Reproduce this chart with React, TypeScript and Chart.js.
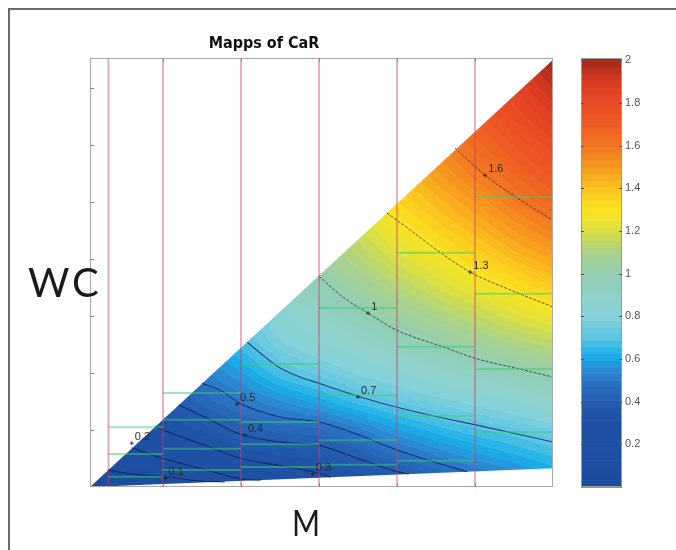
import React, { useEffect, useRef } from "react";
import { Chart, registerables } from "chart.js";
Chart.register(...registerables);

// ---- value grid of CaR (rows: WC levels, cols: M levels)
const mLevels = [0, 0.5, 1, 1.5, 2, 2.5, 3, 3.5, 4, 4.5, 5, 5.5, 6];
const wcLevels = [0, 0.5, 1, 1.5, 2, 2.5, 3, 3.5, 4, 4.5, 5, 5.5, 6, 6.5, 7, 7.5];
const carValues = [
  [0.0, 0.03, 0.06, 0.11, 0.16, 0.21, 0.255, 0.29, 0.33, 0.38, 0.44, 0.5, 0.56],
  [0.08, 0.15, 0.2, 0.25, 0.3, 0.33, 0.35, 0.4, 0.46, 0.52, 0.57, 0.61, 0.65],
  [0.14, 0.23, 0.3, 0.35, 0.42, 0.45, 0.46, 0.52, 0.59, 0.64, 0.68, 0.71, 0.75],
  [0.19, 0.29, 0.37, 0.45, 0.51, 0.56, 0.61, 0.67, 0.72, 0.76, 0.8, 0.84, 0.89],
  [0.23, 0.34, 0.42, 0.52, 0.59, 0.68, 0.73, 0.79, 0.83, 0.89, 0.93, 0.98, 1.02],
  [0.27, 0.38, 0.47, 0.58, 0.67, 0.77, 0.83, 0.89, 0.95, 1.0, 1.05, 1.1, 1.14],
  [0.3, 0.42, 0.51, 0.63, 0.73, 0.83, 0.91, 0.97, 1.04, 1.1, 1.15, 1.21, 1.26],
  [0.33, 0.45, 0.55, 0.68, 0.79, 0.89, 0.98, 1.05, 1.12, 1.19, 1.25, 1.31, 1.37],
  [0.36, 0.48, 0.58, 0.72, 0.84, 0.94, 1.04, 1.12, 1.2, 1.27, 1.34, 1.41, 1.47],
  [0.39, 0.51, 0.61, 0.76, 0.89, 0.99, 1.1, 1.18, 1.27, 1.35, 1.42, 1.5, 1.57],
  [0.41, 0.53, 0.64, 0.79, 0.93, 1.03, 1.15, 1.24, 1.34, 1.42, 1.5, 1.59, 1.66],
  [0.43, 0.55, 0.67, 0.82, 0.97, 1.07, 1.2, 1.3, 1.4, 1.49, 1.58, 1.66, 1.73],
  [0.45, 0.57, 0.69, 0.85, 1.0, 1.11, 1.25, 1.35, 1.46, 1.55, 1.64, 1.72, 1.8],
  [0.47, 0.59, 0.71, 0.88, 1.03, 1.15, 1.29, 1.4, 1.52, 1.61, 1.7, 1.79, 1.87],
  [0.49, 0.61, 0.73, 0.9, 1.06, 1.18, 1.33, 1.45, 1.58, 1.67, 1.76, 1.84, 1.94],
  [0.5, 0.63, 0.75, 0.92, 1.09, 1.21, 1.37, 1.5, 1.63, 1.73, 1.82, 1.9, 2.0],
];

// triangular domain (vertices)
const domainM = [0.064, 6, 6];
const domainWC = [0, 7.5, 0.33];

// axes
const mMin = 0.064;
const mMax = 6;
const wcMin = 0;
const wcMax = 7.53;
const mTicks = [1, 2, 3, 4, 5];
const wcTicks = [1, 2, 3, 4, 5, 6, 7];
const cbTicks = [0.2, 0.4, 0.6, 0.8, 1, 1.2, 1.4, 1.6, 1.8, 2];

// vertical partition lines (M)
const partitionM = [0.3, 1, 2, 3, 4, 5];

// horizontal segments (WC levels inside each M band)
const segFromM = [0.3, 0.3, 0.3, 1, 1, 1, 1, 2, 2, 2, 2, 3, 3, 3, 3, 4, 4, 4, 4, 5, 5, 5, 5];
const segToM = [1, 1, 1, 2, 2, 2, 2, 3, 3, 3, 3, 4, 4, 4, 4, 5, 5, 5, 5, 6, 6, 6, 6];
const segWC = [1.05, 0.58, 0.18, 1.65, 1.18, 0.67, 0.3, 2.16, 1.14, 0.75, 0.35, 3.14, 1.61, 0.82, 0.39, 4.11, 2.46, 1.25, 0.46, 5.09, 3.39, 2.07, 0.96];

// contour lines
const c01M = [0.29, 0.58, 1.03, 1.47, 1.79];
const c01WC = [0.3, 0.23, 0.18, 0.105, 0.09];
const c02M = [0.6, 1.0, 1.5, 2.0, 2.25];
const c02WC = [0.69, 0.5, 0.32, 0.14, 0.12];
const c03M = [0.9, 1.0, 1.5, 2.0, 2.5, 3.0, 3.15];
const c03WC = [1.06, 1.0, 0.75, 0.5, 0.375, 0.24, 0.17];
const c04M = [1.2, 1.5, 2.0, 2.5, 3.0, 3.5, 4.0, 4.15];
const c04WC = [1.44, 1.25, 0.92, 0.79, 0.73, 0.5, 0.27, 0.23];
const c05M = [1.5, 1.73, 2.0, 2.5, 3.0, 3.5, 4.0, 4.5, 4.9];
const c05WC = [1.82, 1.7, 1.46, 1.23, 1.14, 0.92, 0.65, 0.43, 0.27];
const c07M = [2.08, 2.31, 2.5, 2.76, 3.0, 3.53, 4.0, 4.59, 5.01, 6.0];
const c07WC = [2.54, 2.28, 2.09, 1.93, 1.82, 1.58, 1.4, 1.21, 1.09, 0.79];
const c10M = [3.0, 3.31, 3.63, 4.0, 4.59, 5.0, 5.45, 6.0];
const c10WC = [3.7, 3.33, 3.05, 2.75, 2.46, 2.26, 2.11, 1.93];
const c13M = [3.87, 4.17, 4.51, 4.94, 5.45, 6.0];
const c13WC = [4.81, 4.51, 4.16, 3.77, 3.46, 3.16];
const c16M = [4.74, 5.13, 5.58, 6.0];
const c16WC = [5.95, 5.47, 5.04, 4.68];
const contourLevel = [0.1, 0.2, 0.3, 0.4, 0.5, 0.7, 1, 1.3, 1.6];

// contour labels
const labelText = ["0.1", "0.2", "0.3", "0.4", "0.5", "0.7", "1", "1.3", "1.6"];
const labelM = [1.03, 0.6, 2.92, 2.05, 1.95, 3.5, 3.63, 4.94, 5.13];
const labelWC = [0.15, 0.77, 0.23, 0.91, 1.46, 1.58, 3.05, 3.77, 5.47];

// colormap
const cmapStops = [0, 0.32, 0.42, 0.5, 0.56, 0.62, 0.7, 0.8, 0.9, 1.0, 1.1, 1.16, 1.22, 1.3, 1.4, 1.5, 1.6, 1.7, 1.8, 1.9, 2.0];
const cmapColors = ["#1c4c9e", "#1f52a6", "#2560b2", "#2a74c4", "#2b8fd6", "#19b0ea", "#5cc5e3", "#87d2d9", "#8fd2c9", "#93cdb2", "#aad38b", "#c4da5e", "#e2e23a", "#fbe321", "#fbc31f", "#f79a1e", "#f27722", "#ee5c24", "#e94b25", "#db3c22", "#a02a1a"];
const cbMax = 2.01;
const nLevels = 64;

function hexToRgb(h: string) {
  const n = parseInt(h.slice(1), 16);
  return [(n >> 16) & 255, (n >> 8) & 255, n & 255];
}
const cmapRgb = cmapColors.map(hexToRgb);
function colormap(v: number) {
  const c = Math.max(cmapStops[0], Math.min(cmapStops[cmapStops.length - 1], v));
  let i = 0;
  while (i < cmapStops.length - 2 && c > cmapStops[i + 1]) i++;
  const t = (c - cmapStops[i]) / (cmapStops[i + 1] - cmapStops[i]);
  const a = cmapRgb[i], b = cmapRgb[i + 1];
  return [a[0] + (b[0] - a[0]) * t, a[1] + (b[1] - a[1]) * t, a[2] + (b[2] - a[2]) * t];
}
function levelColor(v: number) {
  const k = Math.max(0, Math.min(nLevels - 1, Math.floor((v / 2) * nLevels)));
  return colormap(((k + 0.5) * 2) / nLevels);
}
function findIdx(arr: number[], v: number) {
  let i = 0;
  while (i < arr.length - 2 && v > arr[i + 1]) i++;
  return i;
}
function carAt(m: number, wc: number) {
  const i = findIdx(mLevels, m);
  const j = findIdx(wcLevels, wc);
  const tx = Math.max(0, Math.min(1, (m - mLevels[i]) / (mLevels[i + 1] - mLevels[i])));
  const ty = Math.max(0, Math.min(1, (wc - wcLevels[j]) / (wcLevels[j + 1] - wcLevels[j])));
  const v00 = carValues[j][i], v10 = carValues[j][i + 1];
  const v01 = carValues[j + 1][i], v11 = carValues[j + 1][i + 1];
  return (v00 * (1 - tx) + v10 * tx) * (1 - ty) + (v01 * (1 - tx) + v11 * tx) * ty;
}

const heatPlugin = {
  id: "heat",
  beforeDatasetsDraw(chart: any) {
    const { ctx, chartArea: a, scales } = chart;
    const xs = scales.x, ys = scales.y;
    const w = Math.round(a.right - a.left), h = Math.round(a.bottom - a.top);
    const off = document.createElement("canvas");
    off.width = w;
    off.height = h;
    const octx = off.getContext("2d")!;
    const img = octx.createImageData(w, h);
    const ms: number[] = [];
    for (let i = 0; i < w; i++) ms.push(xs.getValueForPixel(a.left + i + 0.5));
    for (let j = 0; j < h; j++) {
      const wc = ys.getValueForPixel(a.top + j + 0.5);
      for (let i = 0; i < w; i++) {
        const c = levelColor(carAt(ms[i], wc));
        const p = (j * w + i) * 4;
        img.data[p] = c[0];
        img.data[p + 1] = c[1];
        img.data[p + 2] = c[2];
        img.data[p + 3] = 255;
      }
    }
    octx.putImageData(img, 0, 0);
    ctx.save();
    ctx.beginPath();
    domainM.forEach((m, k) => {
      const px = xs.getPixelForValue(m), py = ys.getPixelForValue(domainWC[k]);
      if (k === 0) ctx.moveTo(px, py);
      else ctx.lineTo(px, py);
    });
    ctx.closePath();
    ctx.clip();
    ctx.drawImage(off, a.left, a.top);
    ctx.restore();
  },
  afterDatasetsDraw(chart: any) {
    const { ctx, scales } = chart;
    const xs = scales.x, ys = scales.y;
    ctx.save();
    ctx.font = '11px "Liberation Sans", Arial, sans-serif';
    ctx.fillStyle = "#2a2a2a";
    ctx.strokeStyle = "#222";
    ctx.lineWidth = 0.9;
    ctx.textAlign = "left";
    ctx.textBaseline = "middle";
    labelText.forEach((t, i) => {
      const px = xs.getPixelForValue(labelM[i]);
      const py = ys.getPixelForValue(labelWC[i]);
      ctx.beginPath();
      ctx.moveTo(px - 2, py);
      ctx.lineTo(px + 2, py);
      ctx.moveTo(px, py - 2);
      ctx.lineTo(px, py + 2);
      ctx.stroke();
      ctx.fillText(t, px + 3, py - 6);
    });
    ctx.restore();
  },
  afterDraw(chart: any) {
    const { ctx, chartArea: a, scales } = chart;
    const xs = scales.x, ys = scales.y, cb = scales.cb;
    ctx.save();
    // plot box
    ctx.strokeStyle = "#a8a8a8";
    ctx.lineWidth = 1;
    ctx.strokeRect(a.left + 0.5, a.top + 0.5, a.right - a.left - 1, a.bottom - a.top - 1);
    // inward ticks
    ctx.strokeStyle = "#8a8a8a";
    ctx.beginPath();
    wcTicks.forEach((t) => {
      const py = Math.round(ys.getPixelForValue(t)) + 0.5;
      ctx.moveTo(a.left, py);
      ctx.lineTo(a.left + 4, py);
    });
    mTicks.forEach((t) => {
      const px = Math.round(xs.getPixelForValue(t)) + 0.5;
      ctx.moveTo(px, a.top);
      ctx.lineTo(px, a.top + 4);
      ctx.moveTo(px, a.bottom);
      ctx.lineTo(px, a.bottom - 4);
    });
    ctx.stroke();
    // colorbar
    const cl = cb.left + 28, cr = cb.left + 69;
    for (let k = 0; k < nLevels; k++) {
      const v0 = (k * 2) / nLevels, v1 = k === nLevels - 1 ? cbMax : ((k + 1) * 2) / nLevels;
      const c = colormap(((k + 0.5) * 2) / nLevels);
      const y0 = cb.getPixelForValue(v0), y1 = cb.getPixelForValue(v1);
      ctx.fillStyle = `rgb(${c[0] | 0},${c[1] | 0},${c[2] | 0})`;
      ctx.fillRect(cl, y1, cr - cl, y0 - y1 + 0.6);
    }
    ctx.strokeStyle = "#9a9a9a";
    ctx.strokeRect(cl + 0.5, cb.top + 0.5, cr - cl - 1, cb.bottom - cb.top - 1);
    ctx.strokeStyle = "#555";
    ctx.beginPath();
    cbTicks.forEach((t) => {
      const py = Math.round(cb.getPixelForValue(t)) + 0.5;
      ctx.moveTo(cl, py);
      ctx.lineTo(cl + 3, py);
      ctx.moveTo(cr, py);
      ctx.lineTo(cr - 3, py);
    });
    ctx.stroke();
    // title
    ctx.fillStyle = "#111";
    ctx.textAlign = "center";
    ctx.textBaseline = "alphabetic";
    ctx.font = 'bold 16px "Liberation Sans Narrow", "DejaVu Sans Condensed", Arial, sans-serif';
    ctx.fillText("Mapps of CaR", 264, 48);
    // axis titles
    ctx.fillStyle = "#1a1a1a";
    ctx.font = '400 40px Lato, "Open Sans", sans-serif';
    (ctx as any).letterSpacing = "3px";
    ctx.textAlign = "left";
    ctx.fillText("WC", 28, 297);
    (ctx as any).letterSpacing = "0px";
    ctx.save();
    ctx.translate(306, 536);
    ctx.scale(0.84, 1);
    ctx.font = '400 36px Lato, "Open Sans", sans-serif';
    ctx.textAlign = "center";
    ctx.fillText("M", 0, 0);
    ctx.restore();
    ctx.restore();
  },
};

function buildDatasets() {
  const ds: any[] = [];
  const base = { pointRadius: 0, fill: false, tension: 0 };
  partitionM.forEach((m) => {
    ds.push({ ...base, data: [{ x: m, y: wcMin }, { x: m, y: wcMax }], borderColor: "rgba(214,55,105,0.5)", borderWidth: 1.6 });
  });
  segWC.forEach((wc, i) => {
    ds.push({ ...base, data: [{ x: segFromM[i], y: wc }, { x: segToM[i], y: wc }], borderColor: "rgba(60,205,110,0.5)", borderWidth: 2 });
  });
  const contours = [
    [c01M, c01WC], [c02M, c02WC], [c03M, c03WC], [c04M, c04WC], [c05M, c05WC],
    [c07M, c07WC], [c10M, c10WC], [c13M, c13WC], [c16M, c16WC],
  ];
  contours.forEach(([ms, ws], k) => {
    const low = contourLevel[k] <= 0.7;
    ds.push({
      ...base,
      data: ms.map((m, i) => ({ x: m, y: ws[i] })),
      borderColor: low ? "rgba(8,28,80,0.75)" : "rgba(20,25,35,0.7)",
      borderWidth: low ? 1.1 : 1,
      borderDash: low ? [] : [3, 1.5],
      cubicInterpolationMode: "monotone",
    });
  });
  return ds;
}

export default function App() {
  const ref = useRef<HTMLCanvasElement>(null);
  useEffect(() => {
    const chart = new Chart(ref.current!, {
      type: "line",
      data: { datasets: buildDatasets() },
      options: {
        responsive: false,
        animation: false,
        events: [],
        layout: { padding: { left: 90, top: 58, right: 0, bottom: 63 } },
        plugins: { legend: { display: false }, tooltip: { enabled: false }, title: { display: false } },
        scales: {
          x: { type: "linear", min: mMin, max: mMax, display: false },
          y: { type: "linear", min: wcMin, max: wcMax, display: false },
          cb: {
            type: "linear",
            position: "right",
            min: 0,
            max: cbMax,
            grid: { display: false, drawTicks: false },
            border: { display: false },
            ticks: {
              stepSize: 0.2,
              includeBounds: false,
              padding: 72,
              color: "#555",
              font: { family: '"Liberation Sans", Arial, sans-serif', size: 11 },
              callback: (v: any) => (v < 0.1 ? "" : String(Math.round(v * 10) / 10)),
            },
            afterFit: (s: any) => {
              s.width = 123;
              s.paddingTop = 0;
              s.paddingBottom = 0;
            },
          },
        },
      } as any,
      plugins: [heatPlugin],
    });
    return () => chart.destroy();
  }, []);
  return (
    <div style={{ position: "fixed", left: 0, top: 0, width: 676, height: 550, overflow: "hidden", background: "#fff" }}>
      <div style={{ position: "absolute", left: 8, top: 8, width: 700, height: 600, borderLeft: "2px solid #6a6a6a", borderTop: "2px solid #6a6a6a" }} />
      <canvas ref={ref} width={676} height={550} style={{ position: "absolute", left: 0, top: 0, width: 676, height: 550 }} />
    </div>
  );
}
